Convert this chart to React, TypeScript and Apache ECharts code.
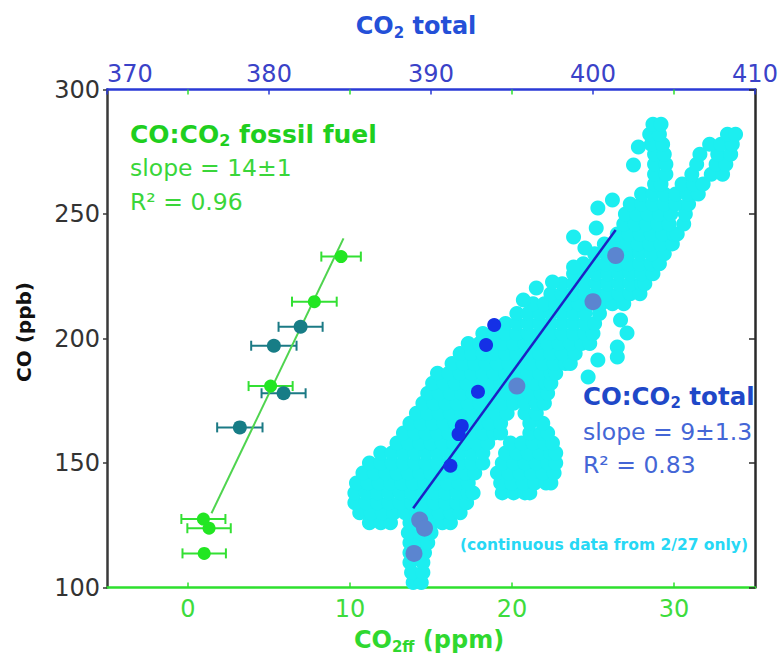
import React, { useEffect, useRef } from 'react';
import * as echarts from 'echarts';

const FONT = 'DejaVu Sans';

// Bottom axis (CO2ff, ppm) vs CO (ppb): [x, y, ±error]
const greenPoints = [
  [9.45, 232.9, 1.22], [7.8, 214.8, 1.38], [5.1, 180.9, 1.36],
  [0.95, 127.5, 1.36], [1.3, 123.8, 1.34], [1.0, 113.7, 1.34],
];
const tealPoints = [
  [6.95, 204.7, 1.36], [5.3, 197.1, 1.4], [5.9, 178.0, 1.36], [3.2, 164.3, 1.4],
];
const ffFitLine = [[1.45, 129.8], [9.6, 240.2]];
const ffTicks = [0, 10, 20, 30];

// Top axis (CO2 total, ppm) vs CO (ppb)
const totalDarkBlue = [
  [393.9, 205.4], [393.4, 197.4], [392.9, 178.6], [391.9, 164.9], [391.7, 161.6], [391.2, 148.9],
];
const totalSteelBlue = [
  [401.4, 233.3], [400.0, 214.8], [395.3, 180.9], [389.3, 127.1], [389.6, 123.8], [388.95, 113.7],
];
const totalFitLine = [[388.9, 131.8], [401.4, 243.6]];

// Continuous data (2/27): rows of [CO, CO2 total values]
const cloudRows: [number, number[]][] = [
  [102, [388.9, 389.4]],
  [106, [388.8, 389.5]],
  [110, [388.7, 389.5]],
  [114, [388.7, 389.6]],
  [118, [388.7, 389.3, 389.8]],
  [122, [388.6, 389.3, 390.0]],
  [126, [386.2, 386.9, 387.5, 388.7, 389.4, 390.1, 390.7, 391.2]],
  [130, [385.6, 386.3, 387.0, 387.7, 388.4, 389.1, 389.8, 390.5, 391.2, 391.8]],
  [134, [385.3, 386.0, 386.7, 387.4, 388.1, 388.8, 389.5, 390.2, 390.9, 391.6, 392.2]],
  [138, [385.3, 386.0, 386.7, 387.4, 388.1, 388.8, 389.5, 390.2, 390.9, 391.6, 392.3, 392.6, 394.4, 395.1, 395.8, 396.1]],
  [142, [385.4, 386.1, 386.8, 387.5, 388.2, 388.9, 389.6, 390.3, 391.0, 391.7, 392.3, 394.3, 395.0, 395.7, 396.4, 397.1, 397.4]],
  [146, [385.8, 386.5, 387.2, 387.9, 388.6, 389.3, 390.0, 390.7, 391.4, 392.1, 392.7, 394.1, 394.8, 395.5, 396.2, 396.9, 397.6]],
  [150, [386.2, 386.9, 387.6, 388.3, 389.0, 389.7, 390.4, 391.1, 391.8, 392.5, 393.2, 394.4, 395.1, 395.8, 396.5, 397.2, 397.7]],
  [154, [386.9, 387.6, 388.3, 389.0, 389.7, 390.4, 391.1, 391.8, 392.5, 393.2, 394.6, 395.3, 396.0, 396.7, 397.4, 397.7]],
  [158, [387.9, 388.6, 389.3, 390.0, 390.7, 391.4, 392.1, 392.8, 393.5, 394.9, 395.6, 396.3, 397.0, 397.5]],
  [162, [388.3, 389.0, 389.7, 390.4, 391.1, 391.8, 392.5, 393.2, 393.9, 394.3, 396.1, 396.8, 397.2]],
  [166, [388.7, 389.4, 390.1, 390.8, 391.5, 392.2, 392.9, 393.6, 394.3, 396.1, 396.9]],
  [170, [389.1, 389.8, 390.5, 391.2, 391.9, 392.6, 393.3, 394.0, 394.7, 395.8, 396.5]],
  [174, [389.5, 390.2, 390.9, 391.6, 392.3, 393.0, 393.7, 394.4, 395.1, 395.8, 396.5, 397.0]],
  [178, [389.8, 390.5, 391.2, 391.9, 392.6, 393.3, 394.0, 394.7, 395.4, 396.1, 396.8, 397.2]],
  [182, [390.1, 390.8, 391.5, 392.2, 392.9, 393.6, 394.3, 395.0, 395.7, 396.4, 397.1, 397.4]],
  [186, [390.4, 391.1, 391.8, 392.5, 393.2, 393.9, 394.6, 395.3, 396.0, 396.7, 397.4, 397.7]],
  [190, [391.3, 392.0, 392.7, 393.4, 394.1, 394.8, 395.5, 396.2, 396.9, 397.6, 398.3, 398.6]],
  [194, [391.8, 392.5, 393.2, 393.9, 394.6, 395.3, 396.0, 396.7, 397.4, 398.1, 398.9]],
  [198, [392.3, 393.0, 393.7, 394.4, 395.1, 395.8, 396.5, 397.2, 397.9, 398.6, 399.3, 399.8]],
  [202, [393.2, 393.9, 394.6, 395.3, 396.0, 396.7, 397.4, 398.1, 398.8, 399.5, 400.0]],
  [206, [394.6, 395.3, 396.0, 396.7, 397.4, 398.1, 398.8, 399.5, 400.1]],
  [210, [395.3, 396.0, 396.7, 397.4, 398.1, 398.8, 399.5, 400.4]],
  [214, [396.3, 397.0, 397.7, 398.4, 399.1, 399.8, 400.5, 401.2, 401.9]],
  [218, [397.4, 398.1, 398.8, 399.5, 400.2, 400.9, 401.6, 402.3, 402.9]],
  [222, [398.1, 398.8, 399.5, 400.2, 400.9, 401.6, 402.3, 403.0, 403.2]],
  [226, [398.8, 399.5, 400.2, 400.9, 401.6, 402.3, 403.0, 403.7]],
  [230, [399.4, 400.1, 400.8, 401.5, 402.2, 402.9, 403.6, 404.1]],
  [234, [400.1, 400.8, 401.5, 402.2, 402.9, 403.6, 404.4]],
  [238, [400.7, 401.4, 402.1, 402.8, 403.5, 404.2, 404.9]],
  [242, [401.5, 402.2, 402.9, 403.6, 404.3, 405.0, 405.2]],
  [246, [401.9, 402.6, 403.3, 404.0, 404.7, 405.6]],
  [250, [402.0, 402.7, 403.4, 404.1, 404.8, 405.7]],
  [254, [402.3, 403.0, 403.7, 404.4, 405.1, 405.9]],
  [258, [403.0, 403.7, 404.4, 405.1, 405.8, 406.5]],
  [262, [403.8, 404.2, 405.5, 406.2, 406.8]],
  [266, [403.8, 404.5, 406.1, 407.3, 408.0]],
  [270, [403.8, 404.5, 406.4, 407.6, 408.2]],
  [274, [403.8, 404.4, 406.6, 407.7, 408.5]],
  [278, [403.6, 404.3, 407.2, 407.9, 408.6]],
  [282, [403.5, 404.1, 408.3, 408.8]],
  [286, [403.7, 404.2]],
];
const cloudDots = [
  [401.7, 207.4], [402.1, 202.2], [401.5, 196.6], [401.5, 192.6], [400.3, 191.4], [399.7, 184.5],
  [395.7, 215.5], [396.5, 220.3], [397.5, 222.7], [398.8, 228.7], [399.5, 236.3], [398.8, 240.8],
  [400.2, 244.4], [400.3, 252.4], [401.2, 255.6], [402.5, 269.7], [402.8, 276.9],
];

const errorBarSeries = (data: number[][], color: string) => ({
  type: 'custom',
  xAxisIndex: 0,
  yAxisIndex: 0,
  data,
  encode: { x: 0, y: 1 },
  z: 3,
  renderItem: (params: any, api: any) => {
    const x = api.value(0);
    const y = api.value(1);
    const e = api.value(2);
    const a = api.coord([x - e, y]);
    const b = api.coord([x + e, y]);
    const h = 5;
    const style = { stroke: color, lineWidth: 2 };
    return {
      type: 'group',
      children: [
        { type: 'line', shape: { x1: a[0], y1: a[1], x2: b[0], y2: b[1] }, style },
        { type: 'line', shape: { x1: a[0], y1: a[1] - h, x2: a[0], y2: a[1] + h }, style },
        { type: 'line', shape: { x1: b[0], y1: b[1] - h, x2: b[0], y2: b[1] + h }, style },
      ],
    };
  },
});

export default function App() {
  const ref = useRef<HTMLDivElement>(null);
  useEffect(() => {
    document.body.style.margin = '0';
    const chart = echarts.init(ref.current!, null, { renderer: 'svg' });
    const cloud: number[][] = [];
    cloudRows.forEach(([co, xs]) => xs.forEach((x) => cloud.push([x, co])));
    cloudDots.forEach((d) => cloud.push(d));

    const subRich = (color: string, size: number) => ({
      b: { fontFamily: FONT, fontWeight: 'bold', fontSize: size, fill: color, lineHeight: 28 },
      s: { fontFamily: FONT, fontWeight: 'bold', fontSize: Math.round(size * 0.62), fill: color, lineHeight: 14, verticalAlign: 'bottom' },
    });

    chart.setOption({
      animation: false,
      textStyle: { fontFamily: FONT },
      grid: { left: 107, right: 27, top: 89.5, bottom: 75.5, outerBoundsMode: 'none' },
      xAxis: [
        {
          type: 'value', position: 'bottom', min: -5, max: 35,
          axisLine: { show: true, onZero: false, lineStyle: { color: '#2ee02e', width: 2.5 } },
          axisTick: { show: true, inside: true, length: 5, customValues: ffTicks, lineStyle: { color: '#2ee02e', width: 1.5 } },
          axisLabel: { customValues: ffTicks, color: '#3ddc3d', fontSize: 24, fontFamily: FONT, margin: 9 },
          splitLine: { show: false },
        },
        {
          type: 'value', position: 'top', min: 370, max: 410, interval: 10,
          axisLine: { show: true, onZero: false, lineStyle: { color: '#2a3ad6', width: 2.5 } },
          axisTick: { show: true, inside: true, length: 5, lineStyle: { color: '#2a3ad6', width: 1.5 } },
          axisLabel: { color: '#3a42c8', fontSize: 24, fontFamily: FONT, margin: 4, alignMinLabel: 'left' },
          splitLine: { show: false },
        },
        {
          type: 'value', position: 'top', min: -5, max: 35,
          axisLine: { show: false },
          axisTick: { show: true, inside: true, length: 5, customValues: ffTicks, lineStyle: { color: '#2ee02e', width: 1.5 } },
          axisLabel: { show: false },
          splitLine: { show: false },
        },
      ],
      yAxis: [
        {
          type: 'value', position: 'left', min: 100, max: 300, interval: 50,
          axisLine: { show: true, onZero: false, lineStyle: { color: '#3a3a3a', width: 2.5 } },
          axisTick: { show: true, inside: false, length: 4, lineStyle: { color: '#3a3a3a', width: 1.5 } },
          axisLabel: { color: '#333333', fontSize: 24, fontFamily: FONT, margin: 7 },
          splitLine: { show: false },
        },
        {
          type: 'value', position: 'right', min: 100, max: 300, interval: 50,
          axisLine: { show: true, onZero: false, lineStyle: { color: '#2a2a2a', width: 2.5 } },
          axisTick: { show: true, inside: true, length: 6, lineStyle: { color: '#2a2a2a', width: 1.5 } },
          axisLabel: { show: false },
          splitLine: { show: false },
        },
      ],
      series: [
        {
          type: 'scatter', xAxisIndex: 1, yAxisIndex: 0, data: cloud,
          symbolSize: 15, itemStyle: { color: '#1ceef0', opacity: 1 }, z: 2,
        },
        {
          type: 'line', xAxisIndex: 1, yAxisIndex: 0, data: totalFitLine,
          showSymbol: false, symbol: 'none', lineStyle: { color: '#1c22c4', width: 2.5 }, z: 3,
        },
        {
          type: 'scatter', xAxisIndex: 1, yAxisIndex: 0, data: totalSteelBlue,
          symbolSize: 17, itemStyle: { color: '#5b85d0', opacity: 1 }, z: 4,
        },
        {
          type: 'scatter', xAxisIndex: 1, yAxisIndex: 0, data: totalDarkBlue,
          symbolSize: 14, itemStyle: { color: '#1530e6', opacity: 1 }, z: 4,
        },
        errorBarSeries(greenPoints, '#33e033'),
        errorBarSeries(tealPoints, '#1b7a85'),
        {
          type: 'line', xAxisIndex: 0, yAxisIndex: 0, data: ffFitLine,
          showSymbol: false, symbol: 'none', lineStyle: { color: '#4fd44f', width: 2 }, z: 3,
        },
        {
          type: 'scatter', xAxisIndex: 0, yAxisIndex: 0, data: tealPoints.map((p) => [p[0], p[1]]),
          symbolSize: 14, itemStyle: { color: '#177d86', opacity: 1 }, z: 4,
        },
        {
          type: 'scatter', xAxisIndex: 0, yAxisIndex: 0, data: greenPoints.map((p) => [p[0], p[1]]),
          symbolSize: 13, itemStyle: { color: '#22e622', opacity: 1 }, z: 4,
        },
      ],
      graphic: [
        {
          type: 'text', x: 416, y: 26, z: 100,
          style: { text: '{b|CO}{s|2}{b| total}', align: 'center', verticalAlign: 'middle', rich: subRich('#2450d8', 24) },
        },
        {
          type: 'text', x: 429, y: 640, z: 100,
          style: { text: '{b|CO}{s|2ff}{b| (ppm)}', align: 'center', verticalAlign: 'middle', rich: subRich('#2fd82f', 24) },
        },
        {
          type: 'text', x: 24, y: 332, rotation: Math.PI / 2, z: 100,
          style: { text: 'CO (ppb)', align: 'center', verticalAlign: 'middle', fill: '#111111', fontFamily: FONT, fontWeight: 'bold', fontSize: 20 },
        },
        {
          type: 'text', x: 130, y: 134, z: 100,
          style: { text: '{b|CO:CO}{s|2}{b| fossil fuel}', align: 'left', verticalAlign: 'middle', rich: subRich('#1fcf1f', 25) },
        },
        {
          type: 'text', x: 130, y: 168, z: 100,
          style: { text: 'slope = 14±1', align: 'left', verticalAlign: 'middle', fill: '#3ad63a', fontFamily: FONT, fontSize: 23.5 },
        },
        {
          type: 'text', x: 130, y: 202, z: 100,
          style: { text: 'R² = 0.96', align: 'left', verticalAlign: 'middle', fill: '#3ad63a', fontFamily: FONT, fontSize: 23.5 },
        },
        {
          type: 'text', x: 583, y: 396, z: 100,
          style: { text: '{b|CO:CO}{s|2}{b| total}', align: 'left', verticalAlign: 'middle', rich: subRich('#1f48c8', 24.5) },
        },
        {
          type: 'text', x: 583, y: 432, z: 100,
          style: { text: 'slope = 9±1.3', align: 'left', verticalAlign: 'middle', fill: '#4466d6', fontFamily: FONT, fontSize: 23.5 },
        },
        {
          type: 'text', x: 583, y: 465, z: 100,
          style: { text: 'R² = 0.83', align: 'left', verticalAlign: 'middle', fill: '#4466d6', fontFamily: FONT, fontSize: 23.5 },
        },
        {
          type: 'text', x: 460, y: 545, z: 100,
          style: { text: '(continuous data from 2/27 only)', align: 'left', verticalAlign: 'middle', fill: '#27d8f5', fontFamily: FONT, fontWeight: 'bold', fontSize: 15.5 },
        },
      ],
    });
    return () => chart.dispose();
  }, []);
  return <div ref={ref} style={{ width: 782, height: 663 }} />;
}
